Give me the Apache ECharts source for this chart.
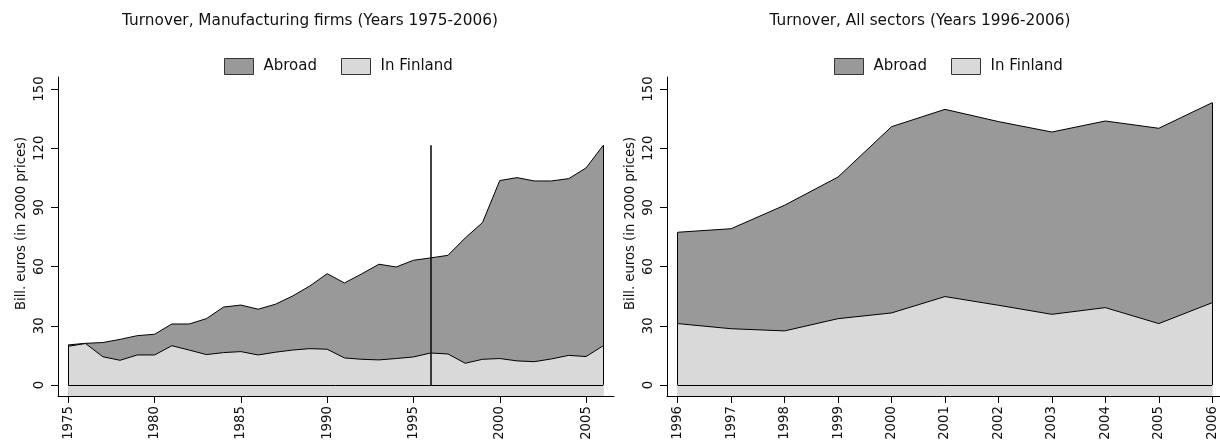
<!DOCTYPE html>
<html>
<head>
<meta charset="utf-8">
<script src="https://cdn.jsdelivr.net/npm/echarts@6/dist/echarts.min.js"></script>
<style>
html,body{margin:0;padding:0;background:#fff;}
#chart{width:1220px;height:444px;}
</style>
</head>
<body>
<div id="chart"></div>
<script>
// ---- Data (billion euros, 2000 prices) ----
const mfgYears = [1975,1976,1977,1978,1979,1980,1981,1982,1983,1984,1985,1986,1987,1988,1989,1990,
                  1991,1992,1993,1994,1995,1996,1997,1998,1999,2000,2001,2002,2003,2004,2005,2006];
const mfgFinland = [19.6,21.0,14.3,12.5,15.2,15.2,19.9,17.7,15.4,16.4,16.9,15.2,16.6,17.7,18.4,18.1,
                    13.7,13.0,12.7,13.4,14.2,16.2,15.7,11.0,13.0,13.4,12.2,11.8,13.2,15.0,14.4,19.9];
const mfgAbroad  = [0.7,0.1,7.2,10.6,9.8,10.5,11.0,13.2,18.2,23.1,23.6,23.2,24.3,27.4,31.8,38.3,
                    38.0,43.3,48.5,46.4,49.0,48.2,50.0,63.5,69.3,90.2,92.9,91.6,90.2,89.6,95.6,101.6];
const mfgMarkYear = 1996;

const allYears   = [1996,1997,1998,1999,2000,2001,2002,2003,2004,2005,2006];
const allFinland = [31.1,28.5,27.4,33.6,36.5,44.8,40.4,35.8,39.2,31.1,41.7];
const allAbroad  = [46.3,50.7,63.7,71.8,94.4,94.9,93.1,92.4,94.6,99.0,101.4];

const yTicks = [0,30,60,90,120,150];
const mfgXTicks = [1975,1980,1985,1990,1995,2000,2005];
const allXTicks = [1996,1997,1998,1999,2000,2001,2002,2003,2004,2005,2006];

const titles = ['Turnover, Manufacturing firms (Years 1975-2006)', 'Turnover, All sectors (Years 1996-2006)'];
const yName = 'Bill. euros (in 2000 prices)';
const seriesNames = ['Abroad', 'In Finland'];

// ---- Styles ----
const FONT = 'DejaVu Sans';
const TXT = '#111';
const C_ABROAD = '#999999';
const C_FIN = '#d9d9d9';

function pairs(xs, ys){ return xs.map((x,i)=>[x, ys[i]]); }
function stackTop(fin, abr){ return fin.map((v,i)=>v+abr[i]); }

function edgeLines(xs, top){
  const n = xs.length - 1;
  return [
    [{coord:[xs[0],0]},{coord:[xs[0],top[0]]}],
    [{coord:[xs[n],0]},{coord:[xs[n],top[n]]}],
    [{coord:[xs[0],0]},{coord:[xs[n],0]}]
  ];
}

function xAxis(gi, min, max, ticks){
  return {
    type:'value', gridIndex:gi, min:min, max:max,
    axisLine:{show:true, onZero:false, lineStyle:{color:'#000', width:1}},
    axisTick:{show:true, length:7, customValues:ticks, lineStyle:{color:'#000', width:1}},
    axisLabel:{customValues:ticks, rotate:90, margin:10, fontFamily:FONT, fontSize:13.3, color:TXT,
               formatter:function(v){ return String(v); }},
    splitLine:{show:false}, minorTick:{show:false}
  };
}
function yAxis(gi){
  return {
    type:'value', gridIndex:gi, min:-5.6, max:156.1,
    name:yName, nameLocation:'middle', nameGap:30, nameRotate:90, nameMoveOverlap:false,
    nameTextStyle:{fontFamily:FONT, fontSize:13.2, color:TXT, padding:[0,0,0,26]},
    axisLine:{show:true, onZero:false, lineStyle:{color:'#000', width:1}},
    axisTick:{show:true, length:7, customValues:yTicks, lineStyle:{color:'#000', width:1}},
    axisLabel:{customValues:yTicks, rotate:90, margin:12, fontFamily:FONT, fontSize:13.3, color:TXT,
               formatter:function(v){ return String(v); }},
    splitLine:{show:false}, minorTick:{show:false}
  };
}
function areaSeries(name, gi, xs, ys, color, z, marks){
  const s = {
    type:'line', name:name, xAxisIndex:gi, yAxisIndex:gi, z:z,
    data:pairs(xs, ys), showSymbol:false, symbol:'none', silent:true,
    itemStyle:{color:color},
    lineStyle:{color:'#000', width:1},
    areaStyle:{color:color, opacity:1, origin:'start'},
    emphasis:{disabled:true}
  };
  if (marks) {
    s.markLine = {silent:true, symbol:['none','none'], z:10, animation:false,
      label:{show:false}, lineStyle:{color:'#000', width:1, type:'solid'},
      emphasis:{disabled:true}, data:marks};
  }
  return s;
}
function legend(left){
  return {
    left:left, top:53, orient:'horizontal', itemWidth:29, itemHeight:16, itemGap:24,
    selectedMode:false,
    textStyle:{fontFamily:FONT, fontSize:15, color:TXT, padding:[0,0,0,5]},
    data:[
      {name:seriesNames[0], icon:'rect', itemStyle:{color:C_ABROAD, borderColor:'#333', borderWidth:1}},
      {name:seriesNames[1], icon:'rect', itemStyle:{color:C_FIN, borderColor:'#333', borderWidth:1}}
    ]
  };
}

// stacked tops (Abroad sits on top of In Finland)
const mfgTop = stackTop(mfgFinland, mfgAbroad);
const allTop = stackTop(allFinland, allAbroad);

const mfgMarks = edgeLines(mfgYears, mfgTop).concat([
  [{coord:[mfgMarkYear,0]},{coord:[mfgMarkYear,Math.max.apply(null, mfgTop)], lineStyle:{width:1.6, color:'#111'}}]
]);

const chart = echarts.init(document.getElementById('chart'), null, {renderer:'canvas'});
chart.setOption({
  animation:false,
  backgroundColor:'#fff',
  title:[
    {text:titles[0], left:310, top:14, textAlign:'center', padding:0,
     textStyle:{fontFamily:FONT, fontSize:15.3, fontWeight:'normal', color:TXT}},
    {text:titles[1], left:920, top:14, textAlign:'center', padding:0,
     textStyle:{fontFamily:FONT, fontSize:15.3, fontWeight:'normal', color:TXT}}
  ],
  legend:[legend(219), legend(829)],
  grid:[
    {left:58, top:77, width:556, height:319},
    {left:667, top:77, width:553, height:319}
  ],
  xAxis:[xAxis(0, 1974.403, 2006.62, mfgXTicks), xAxis(1, 1995.8, 2006.145, allXTicks)],
  yAxis:[yAxis(0), yAxis(1)],
  series:[
    areaSeries(seriesNames[0], 0, mfgYears, mfgTop, C_ABROAD, 2, mfgMarks),
    areaSeries(seriesNames[1], 0, mfgYears, mfgFinland, C_FIN, 3, null),
    areaSeries(seriesNames[0], 1, allYears, allTop, C_ABROAD, 2, edgeLines(allYears, allTop)),
    areaSeries(seriesNames[1], 1, allYears, allFinland, C_FIN, 3, null)
  ]
});
</script>
</body>
</html>
